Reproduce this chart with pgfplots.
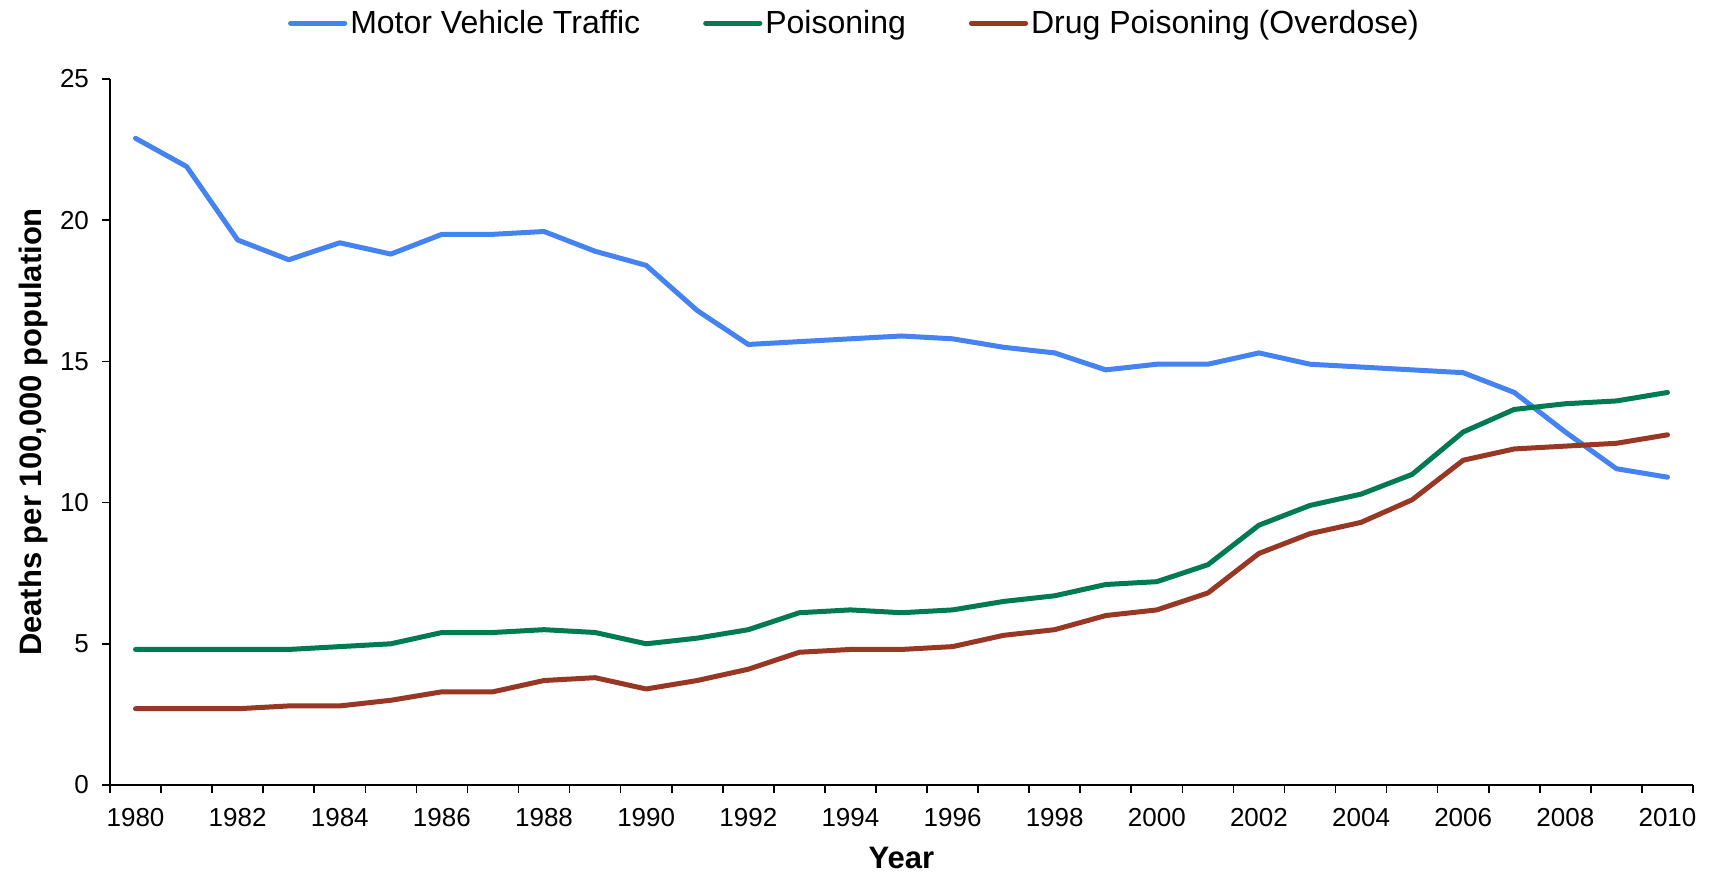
\documentclass[border=0pt]{standalone}
\usepackage{fontspec}
\setmainfont{Liberation Sans}
\usepackage{pgfplots}
\pgfplotsset{compat=1.18}
\definecolor{cblue}{RGB}{68,131,240}
\definecolor{cgreen}{RGB}{0,122,80}
\definecolor{cred}{RGB}{152,55,35}
\begin{document}
\begin{tikzpicture}
\useasboundingbox (-55pt,-43.5pt) rectangle (802pt,392.5pt);
\begin{axis}[
  scale only axis,
  width=791.5pt, height=353pt,
  xmin=1979.5, xmax=2010.5,
  ymin=0, ymax=25,
  axis x line*=bottom, axis y line*=left,
  axis line style={-, line width=0.8pt},
  xtick={1980,1982,...,2010},
  minor xtick={1979.5,1980.5,...,2010.5},
  ytick={0,5,...,25},
  tick align=outside,
  major x tick style={draw=none},
  minor x tick style={black, line width=0.8pt},
  minor tick length=4pt,
  major tick length=4pt,
  y tick style={black, line width=0.8pt},
  /pgf/number format/assume math mode=true,
  xticklabel={\pgfmathprintnumber[1000 sep={}]{\tick}},
  tick label style={font=\fontsize{13}{15}\selectfont},
  xticklabel style={yshift=-4pt},
  yticklabel style={xshift=-3pt},
  xlabel={\textbf{Year}},
  ylabel={\textbf{Deaths per 100,000 population}},
  label style={font=\fontsize{15.5}{18}\selectfont},
  xlabel style={at={(axis description cs:0.5,-0.1034)}, anchor=center},
  ylabel style={at={(axis description cs:-0.0486,0.5)}, anchor=center},
  legend columns=3,
  legend style={draw=none, fill=none, at={(axis description cs:0.4706,1.079)}, anchor=center,
    font=\fontsize{16}{18}\selectfont, /tikz/every even column/.append style={column sep=30pt},
    inner sep=0pt, nodes={inner sep=1.5pt}},
  legend cell align=left,
  legend image code/.code={\draw[#1, line width=2.6pt, line cap=round] (0pt,0pt) -- (27pt,0pt);},
  every axis plot/.append style={line width=2.5pt, line join=round, line cap=round},
]
\addplot[cblue] coordinates {
(1980,22.9)(1981,21.9)(1982,19.3)(1983,18.6)(1984,19.2)(1985,18.8)(1986,19.5)(1987,19.5)(1988,19.6)(1989,18.9)(1990,18.4)(1991,16.8)(1992,15.6)(1993,15.7)(1994,15.8)(1995,15.9)(1996,15.8)(1997,15.5)(1998,15.3)(1999,14.7)(2000,14.9)(2001,14.9)(2002,15.3)(2003,14.9)(2004,14.8)(2005,14.7)(2006,14.6)(2007,13.9)(2008,12.5)(2009,11.2)(2010,10.9)};
\addlegendentry{Motor Vehicle Traffic}
\addplot[cgreen] coordinates {
(1980,4.8)(1981,4.8)(1982,4.8)(1983,4.8)(1984,4.9)(1985,5.0)(1986,5.4)(1987,5.4)(1988,5.5)(1989,5.4)(1990,5.0)(1991,5.2)(1992,5.5)(1993,6.1)(1994,6.2)(1995,6.1)(1996,6.2)(1997,6.5)(1998,6.7)(1999,7.1)(2000,7.2)(2001,7.8)(2002,9.2)(2003,9.9)(2004,10.3)(2005,11.0)(2006,12.5)(2007,13.3)(2008,13.5)(2009,13.6)(2010,13.9)};
\addlegendentry{Poisoning}
\addplot[cred] coordinates {
(1980,2.7)(1981,2.7)(1982,2.7)(1983,2.8)(1984,2.8)(1985,3.0)(1986,3.3)(1987,3.3)(1988,3.7)(1989,3.8)(1990,3.4)(1991,3.7)(1992,4.1)(1993,4.7)(1994,4.8)(1995,4.8)(1996,4.9)(1997,5.3)(1998,5.5)(1999,6.0)(2000,6.2)(2001,6.8)(2002,8.2)(2003,8.9)(2004,9.3)(2005,10.1)(2006,11.5)(2007,11.9)(2008,12.0)(2009,12.1)(2010,12.4)};
\addlegendentry{Drug Poisoning (Overdose)}
\end{axis}
\end{tikzpicture}
\end{document}
